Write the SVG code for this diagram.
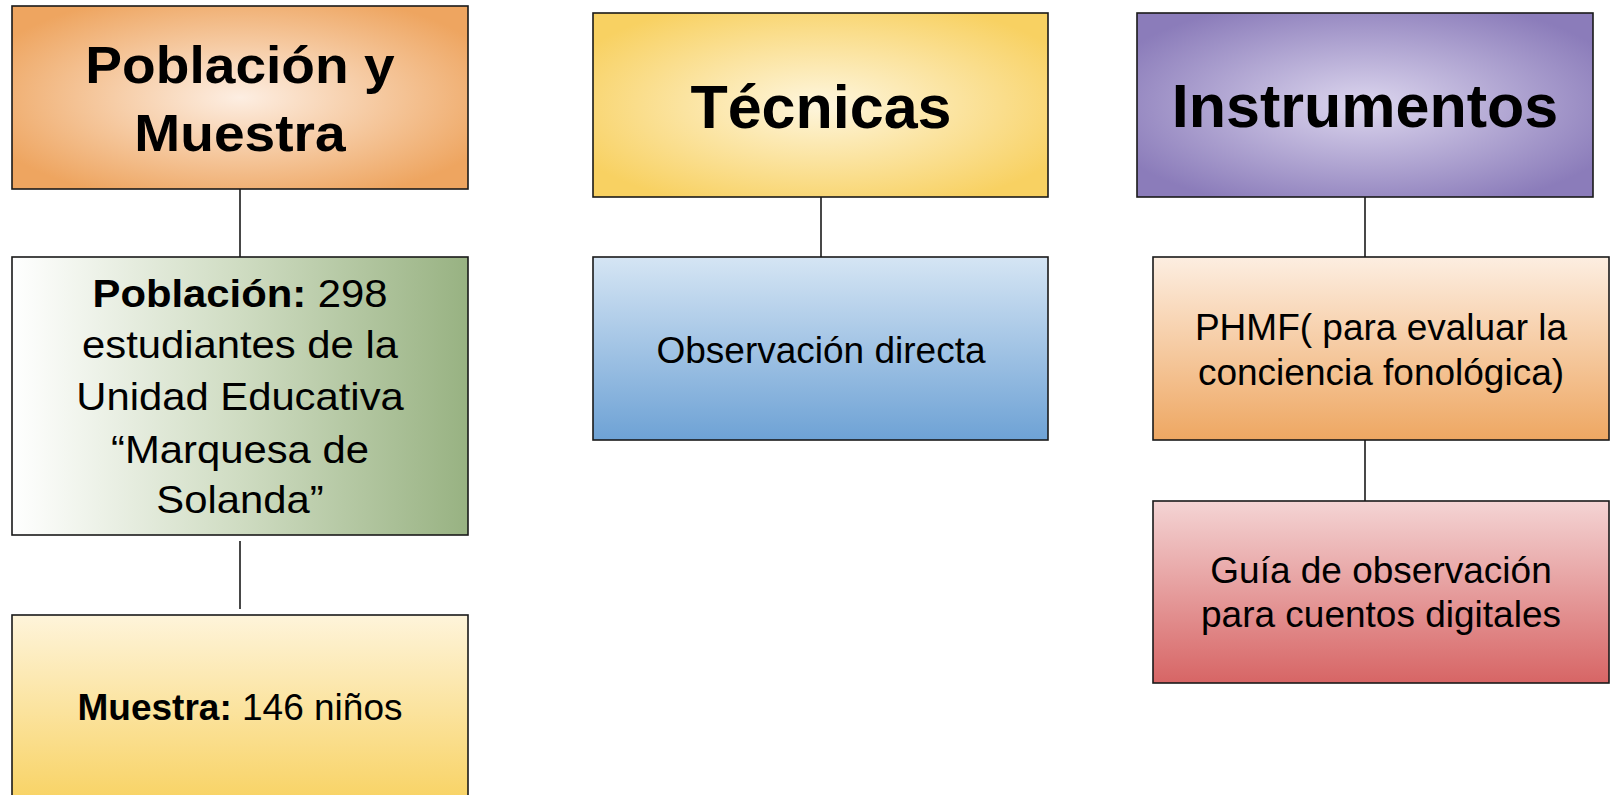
<svg xmlns="http://www.w3.org/2000/svg" width="1610" height="795" viewBox="0 0 1610 795">
<defs>
<radialGradient id="gOrange" cx="0.5" cy="0.5" r="0.6">
<stop offset="0" stop-color="#fdeee2"/>
<stop offset="1" stop-color="#eea560"/>
</radialGradient>
<radialGradient id="gYellowR" cx="0.5" cy="0.5" r="0.6">
<stop offset="0" stop-color="#fef6de"/>
<stop offset="1" stop-color="#f8d162"/>
</radialGradient>
<radialGradient id="gPurple" cx="0.5" cy="0.5" r="0.6">
<stop offset="0" stop-color="#dcd6ee"/>
<stop offset="1" stop-color="#8b7cba"/>
</radialGradient>
<linearGradient id="gGreen" x1="0" y1="0" x2="1" y2="0">
<stop offset="0" stop-color="#ffffff"/>
<stop offset="0.5" stop-color="#cfdcc2"/>
<stop offset="1" stop-color="#98b282"/>
</linearGradient>
<linearGradient id="gYellowV" x1="0" y1="0" x2="0" y2="1">
<stop offset="0" stop-color="#fef4da"/>
<stop offset="1" stop-color="#f8d262"/>
</linearGradient>
<linearGradient id="gBlue" x1="0" y1="0" x2="0" y2="1">
<stop offset="0" stop-color="#d5e5f4"/>
<stop offset="1" stop-color="#6ea2d5"/>
</linearGradient>
<linearGradient id="gPeach" x1="0" y1="0" x2="0" y2="1">
<stop offset="0" stop-color="#fdeee1"/>
<stop offset="1" stop-color="#eea762"/>
</linearGradient>
<linearGradient id="gRed" x1="0" y1="0" x2="0" y2="1">
<stop offset="0" stop-color="#f4d4d4"/>
<stop offset="1" stop-color="#d76565"/>
</linearGradient>
</defs>
<style>
.box{stroke:#1a1a1a;stroke-width:1.6}
.t{font-family:"Liberation Sans",Arial,sans-serif;fill:#000;text-anchor:middle}
.title{font-weight:bold}
.b{font-weight:bold}
.conn line{stroke:#1a1a1a;stroke-width:1.6}
</style>
<g class="conn" id="connectors">
<line x1="240" y1="189" x2="240" y2="257"/>
<line x1="240" y1="541" x2="240" y2="609"/>
<line x1="821" y1="197" x2="821" y2="265"/>
<line x1="1365" y1="193" x2="1365" y2="260"/>
<line x1="1365" y1="440" x2="1365" y2="507"/>
</g>
<g id="poblacion-muestra">
<rect class="box" x="12" y="6" width="456" height="183" fill="url(#gOrange)"/>
<text class="t title" font-size="52" transform="translate(240,83) scale(1.06,1)">Población y</text>
<text class="t title" font-size="52" transform="translate(240,151) scale(1.06,1)">Muestra</text>
</g>
<g id="poblacion">
<rect class="box" x="12" y="257" width="456" height="278" fill="url(#gGreen)"/>
<g class="t" font-size="38">
<text transform="translate(240,307) scale(1.1,1)"><tspan class="b">Población:</tspan> 298</text>
<text transform="translate(240,358) scale(1.1,1)">estudiantes de la</text>
<text transform="translate(240,410) scale(1.1,1)">Unidad Educativa</text>
<text transform="translate(240,463) scale(1.1,1)">“Marquesa de</text>
<text transform="translate(240,513) scale(1.1,1)">Solanda”</text>
</g>
</g>
<g id="muestra">
<rect class="box" x="12" y="615" width="456" height="190" fill="url(#gYellowV)"/>
<text class="t" font-size="37" x="240" y="720"><tspan class="b">Muestra:</tspan> 146 niños</text>
</g>
<g id="tecnicas">
<rect class="box" x="593" y="13" width="455" height="184" fill="url(#gYellowR)"/>
<text class="t title" font-size="61" x="821" y="128">Técnicas</text>
</g>
<g id="observacion">
<rect class="box" x="593" y="257" width="455" height="183" fill="url(#gBlue)"/>
<text class="t" font-size="37" x="821" y="363">Observación directa</text>
</g>
<g id="instrumentos">
<rect class="box" x="1137" y="13" width="456" height="184" fill="url(#gPurple)"/>
<text class="t title" font-size="61" x="1365" y="127">Instrumentos</text>
</g>
<g id="phmf">
<rect class="box" x="1153" y="257" width="456" height="183" fill="url(#gPeach)"/>
<text class="t" font-size="37" x="1381" y="340">PHMF( para evaluar la</text>
<text class="t" font-size="37" x="1381" y="385">conciencia fonológica)</text>
</g>
<g id="guia">
<rect class="box" x="1153" y="501" width="456" height="182" fill="url(#gRed)"/>
<text class="t" font-size="37" x="1381" y="583">Guía de observación</text>
<text class="t" font-size="37" x="1381" y="627">para cuentos digitales</text>
</g>
</svg>
